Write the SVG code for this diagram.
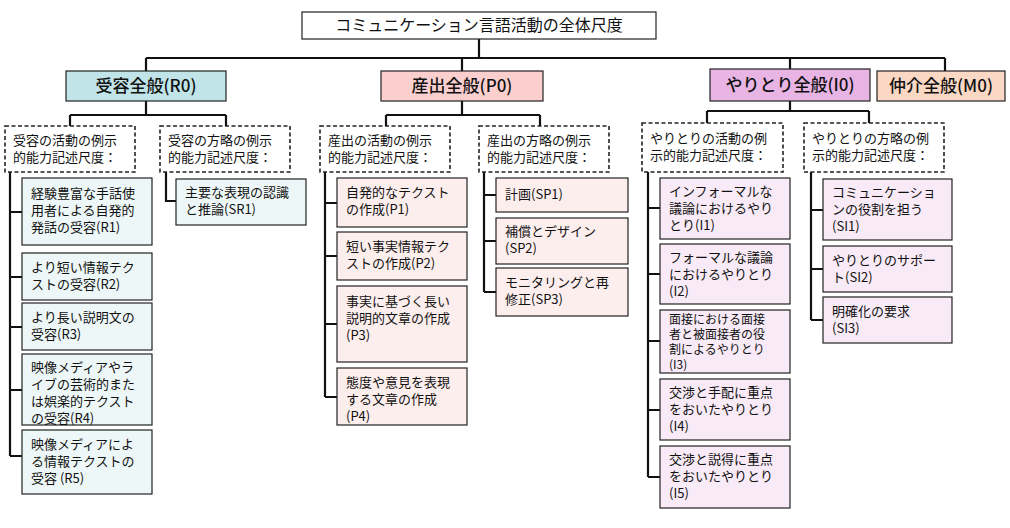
<svg xmlns="http://www.w3.org/2000/svg" width="1010" height="528" viewBox="0 0 1010 528">
<style>
text{font-family:"Noto Sans CJK JP","Noto Sans",sans-serif;font-size:13px;fill:#111}
.h{font-size:17px;font-weight:500;text-anchor:middle}
.t{font-size:16px;text-anchor:middle}
.s{font-size:12px}
.b{stroke:#222;stroke-width:1.2}
.d{fill:#fff;stroke:#222;stroke-width:1.6;stroke-dasharray:4 2.5}
.r{fill:#eef7f8}.p{fill:#fdeeee}.i{fill:#f8eaf6}
.c{fill:none;stroke:#111;stroke-width:2.2}
</style>
<rect width="1010" height="528" fill="#fff"/>
<g id="connectors">
<path class="c" d="M479 39V58M146 58H945M146 58V71M462 58V71M790 58V69M945 58V71"/>
<path class="c" d="M146 101V115M70 115H226M70 115V126M226 115V126"/>
<path class="c" d="M462 101V115M386 115H540M386 115V126M540 115V126"/>
<path class="c" d="M790 101V111M707 111H869M707 111V123M869 111V123"/>
<path class="c" d="M10 172V456M10 212H22M10 277H22M10 327H22M10 390H22M10 456H22"/>
<path class="c" d="M166 172V201H176"/>
<path class="c" d="M325 172V397M325 203H337M325 256H337M325 324H337M325 397H337"/>
<path class="c" d="M484 172V292M484 195H496M484 241H496M484 292H496"/>
<path class="c" d="M648 172V477M648 208H660M648 274H660M648 341H660M648 410H660M648 477H660"/>
<path class="c" d="M811 172V320M811 210H823M811 269H823M811 320H823"/>
</g>
<g id="title"><rect class="b" x="302" y="12" width="354" height="27" fill="#fff"/><text class="t" x="479" y="31">コミュニケーション言語活動の全体尺度</text></g>
<g id="R0"><rect class="b" x="66" y="71" width="160" height="30" fill="#c0e4e8"/><text class="h" x="146" y="92">受容全般(R0)</text></g>
<g id="P0"><rect class="b" x="381" y="71" width="162" height="30" fill="#fccfcf"/><text class="h" x="462" y="92">産出全般(P0)</text></g>
<g id="I0"><rect class="b" x="710" y="69" width="160" height="32" fill="#e8b4e4"/><text class="h" x="790" y="91">やりとり全般(I0)</text></g>
<g id="M0"><rect class="b" x="877" y="71" width="128" height="30" fill="#fad8c4"/><text class="h" x="941" y="92">仲介全般(M0)</text></g>
<g id="RA"><rect class="d" x="5" y="126" width="130" height="46"/><text x="13" y="145">受容の活動の例示</text><text x="13" y="162">的能力記述尺度：</text></g>
<g id="RS"><rect class="d" x="160" y="126" width="130" height="46"/><text x="168" y="145">受容の方略の例示</text><text x="168" y="162">的能力記述尺度：</text></g>
<g id="PA"><rect class="d" x="320" y="126" width="130" height="46"/><text x="328" y="145">産出の活動の例示</text><text x="328" y="162">的能力記述尺度：</text></g>
<g id="PS"><rect class="d" x="479" y="126" width="130" height="46"/><text x="487" y="145">産出の方略の例示</text><text x="487" y="162">的能力記述尺度：</text></g>
<g id="IA"><rect class="d" x="642" y="123" width="141" height="49"/><text x="650" y="143">やりとりの活動の例</text><text x="650" y="160">示的能力記述尺度：</text></g>
<g id="IS"><rect class="d" x="804" y="123" width="140" height="49"/><text x="812" y="143">やりとりの方略の例</text><text x="812" y="160">示的能力記述尺度：</text></g>
<g id="R1"><rect class="b r" x="22" y="178" width="130" height="67"/><text x="31" y="198">経験豊富な手話使</text><text x="31" y="215">用者による自発的</text><text x="31" y="232">発話の受容(R1)</text></g>
<g id="R2"><rect class="b r" x="22" y="253" width="130" height="47"/><text x="31" y="272">より短い情報テク</text><text x="31" y="289">ストの受容(R2)</text></g>
<g id="R3"><rect class="b r" x="22" y="303" width="130" height="47"/><text x="31" y="322">より長い説明文の</text><text x="31" y="339">受容(R3)</text></g>
<g id="R4"><rect class="b r" x="22" y="354" width="130" height="71"/><text x="31" y="372">映像メディアやラ</text><text x="31" y="389">イブの芸術的また</text><text x="31" y="406">は娯楽的テクスト</text><text x="31" y="423">の受容(R4)</text></g>
<g id="R5"><rect class="b r" x="22" y="430" width="130" height="64"/><text x="31" y="449">映像メディアによ</text><text x="31" y="466">る情報テクストの</text><text x="31" y="483">受容 (R5)</text></g>
<g id="SR1"><rect class="b r" x="176" y="179" width="130" height="46"/><text x="185" y="197">主要な表現の認識</text><text x="185" y="214">と推論(SR1)</text></g>
<g id="P1"><rect class="b p" x="337" y="178" width="130" height="49"/><text x="346" y="197">自発的なテクスト</text><text x="346" y="214">の作成(P1)</text></g>
<g id="P2"><rect class="b p" x="337" y="232" width="130" height="48"/><text x="346" y="251">短い事実情報テク</text><text x="346" y="268">ストの作成(P2)</text></g>
<g id="P3"><rect class="b p" x="337" y="286" width="130" height="76"/><text x="346" y="306">事実に基づく長い</text><text x="346" y="323">説明的文章の作成</text><text x="346" y="340">(P3)</text></g>
<g id="P4"><rect class="b p" x="337" y="368" width="130" height="57"/><text x="346" y="387">態度や意見を表現</text><text x="346" y="404">する文章の作成</text><text x="346" y="421">(P4)</text></g>
<g id="SP1"><rect class="b p" x="496" y="178" width="132" height="34"/><text x="505" y="199">計画(SP1)</text></g>
<g id="SP2"><rect class="b p" x="496" y="218" width="132" height="46"/><text x="505" y="236">補償とデザイン</text><text x="505" y="253">(SP2)</text></g>
<g id="SP3"><rect class="b p" x="496" y="268" width="132" height="48"/><text x="505" y="287">モニタリングと再</text><text x="505" y="304">修正(SP3)</text></g>
<g id="I1"><rect class="b i" x="660" y="178" width="130" height="61"/><text x="669" y="196">インフォーマルな</text><text x="669" y="213">議論におけるやり</text><text x="669" y="230">とり(I1)</text></g>
<g id="I2"><rect class="b i" x="660" y="244" width="130" height="60"/><text x="669" y="262">フォーマルな議論</text><text x="669" y="279">におけるやりとり</text><text x="669" y="296">(I2)</text></g>
<g id="I3"><rect class="b i" x="660" y="310" width="130" height="63"/><text class="s" x="669" y="324">面接における面接</text><text class="s" x="669" y="339">者と被面接者の役</text><text class="s" x="669" y="354">割によるやりとり</text><text class="s" x="669" y="369">(I3)</text></g>
<g id="I4"><rect class="b i" x="660" y="379" width="130" height="61"/><text x="669" y="397">交渉と手配に重点</text><text x="669" y="414">をおいたやりとり</text><text x="669" y="431">(I4)</text></g>
<g id="I5"><rect class="b i" x="660" y="446" width="130" height="62"/><text x="669" y="464">交渉と説得に重点</text><text x="669" y="481">をおいたやりとり</text><text x="669" y="498">(I5)</text></g>
<g id="SI1"><rect class="b i" x="823" y="179" width="129" height="61"/><text x="832" y="197">コミュニケーショ</text><text x="832" y="214">ンの役割を担う</text><text x="832" y="231">(SI1)</text></g>
<g id="SI2"><rect class="b i" x="823" y="246" width="129" height="46"/><text x="832" y="265">やりとりのサポー</text><text x="832" y="282">ト(SI2)</text></g>
<g id="SI3"><rect class="b i" x="823" y="297" width="129" height="46"/><text x="832" y="316">明確化の要求</text><text x="832" y="333">(SI3)</text></g>
</svg>
